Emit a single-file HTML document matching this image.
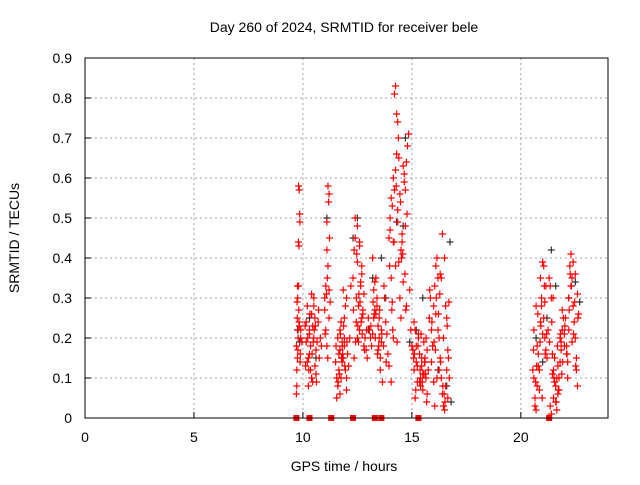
<!DOCTYPE html>
<html><head><meta charset="utf-8"><style>
body{margin:0;background:#fff}
svg text{font-family:"Liberation Sans",sans-serif;font-size:14px;fill:#000}
</style></head><body>
<svg id="chart" width="640" height="480" xmlns="http://www.w3.org/2000/svg">
<text x="344" y="32" text-anchor="middle">Day 260 of 2024, SRMTID for receiver bele</text>
<text x="344" y="471" text-anchor="middle">GPS time / hours</text>
<text transform="translate(19,238) rotate(-90)" text-anchor="middle">SRMTID / TECUs</text>
<g id="grid"></g><g id="ticks"></g><g id="black"></g><g id="red"></g>
<rect x="85" y="58" width="523" height="360" fill="none" stroke="#000" stroke-width="1"/>
</svg>
<script>
const xTicks=[0,5,10,15,20];
const yTicks=[0,0.1,0.2,0.3,0.4,0.5,0.6,0.7,0.8,0.9];
const yTickLabels=["0","0.1","0.2","0.3","0.4","0.5","0.6","0.7","0.8","0.9"];
const redHours=[9.7,9.72,9.75,9.78,9.8,9.82,9.85,9.7,9.74,9.76,9.8,9.83,9.86,9.9,9.72,9.78,9.81,9.84,9.88,9.75,9.79,9.9,9.95,
10.1,10.15,10.2,10.25,10.3,10.35,10.4,10.45,10.5,10.55,10.6,10.2,10.3,10.4,10.5,10.6,10.25,10.35,10.45,10.55,10.15,10.65,10.3,10.5,10.4,10.7,10.8,10.75,10.85,
11.0,11.05,11.1,11.15,11.2,11.25,11.1,11.15,11.2,11.05,11.1,11.18,11.22,11.0,11.12,11.2,
11.5,11.55,11.6,11.65,11.7,11.75,11.8,11.85,11.9,11.95,12.0,12.05,11.6,11.7,11.8,11.9,12.0,11.55,11.65,11.75,11.85,11.95,12.1,12.15,12.2,11.7,11.8,11.9,12.0,
12.3,12.35,12.4,12.45,12.5,12.55,12.6,12.65,12.7,12.75,12.8,12.4,12.5,12.6,12.7,12.8,12.35,12.45,12.55,12.65,12.75,12.85,12.9,12.95,13.0,13.05,12.5,12.6,12.7,
13.1,13.15,13.2,13.25,13.3,13.35,13.4,13.45,13.5,13.55,13.6,13.2,13.3,13.4,13.5,13.6,13.25,13.35,13.45,13.55,13.65,13.7,13.75,13.8,13.85,13.9,
13.95,14.0,14.05,14.1,14.15,14.2,14.25,14.3,14.35,14.4,14.0,14.05,14.1,14.15,14.2,14.25,14.3,14.35,14.4,14.45,14.5,14.55,14.6,14.65,14.7,14.75,14.8,14.85,14.5,14.6,14.7,13.95,14.05,14.15,14.25,14.35,14.45,14.55,14.65,14.75,14.9,14.95,15.0,
15.05,15.1,15.15,15.2,15.25,15.3,15.35,15.4,15.45,15.5,15.55,15.6,15.65,15.7,15.75,15.1,15.2,15.3,15.4,15.5,15.6,15.7,15.15,15.25,15.35,15.45,15.55,15.65,
15.8,15.85,15.9,15.95,16.0,16.05,16.1,16.15,16.2,16.25,16.3,16.35,16.4,16.45,16.5,16.55,16.6,16.65,16.7,15.9,16.0,16.1,16.2,16.3,16.4,16.5,16.6,16.05,16.25,16.45,16.65,16.15,16.35,16.55,
20.55,20.6,20.65,20.7,20.75,20.8,20.85,20.9,20.95,21.0,21.05,21.1,21.15,21.2,20.6,20.7,20.8,20.9,21.0,21.1,20.65,20.75,20.85,20.95,21.05,21.15,21.25,
21.3,21.35,21.4,21.45,21.5,21.55,21.6,21.65,21.7,21.75,21.8,21.85,21.9,21.95,22.0,21.4,21.5,21.6,21.7,21.8,21.9,21.35,21.45,21.55,21.65,21.75,21.85,
22.0,22.05,22.1,22.15,22.2,22.25,22.3,22.35,22.4,22.45,22.5,22.55,22.6,22.65,22.1,22.2,22.3,22.4,22.5,22.6,22.15,22.35,22.55,
9.73,9.77,9.82,9.87,10.12,10.22,10.32,10.42,10.52,10.62,10.72,10.27,10.47,10.57,11.02,11.08,11.14,11.52,11.62,11.72,11.82,11.92,12.02,11.67,11.77,11.87,
12.32,12.42,12.52,12.62,12.72,12.82,12.92,12.47,12.57,12.67,13.12,13.22,13.32,13.42,13.52,13.62,13.72,13.82,13.28,13.48,
13.98,14.08,14.18,14.28,14.38,14.48,14.58,14.68,14.78,14.12,14.32,14.52,14.72,15.08,15.18,15.28,15.38,15.48,15.58,15.68,15.12,15.42,15.62,
15.82,15.92,16.02,16.12,16.22,16.32,16.42,16.52,16.62,16.72,16.08,16.28,16.48,16.68,
20.58,20.68,20.78,20.88,20.98,21.08,21.18,20.72,20.92,21.12,21.32,21.42,21.52,21.62,21.72,21.82,21.92,21.48,21.68,21.88,22.02,22.12,22.22,22.32,22.42,22.52,22.62,22.27,22.47];
const redValues=[0.06,0.08,0.15,0.22,0.33,0.43,0.51,0.18,0.25,0.3,0.58,0.57,0.49,0.2,0.12,0.2,0.27,0.23,0.16,0.33,0.44,0.22,0.19,
0.23,0.19,0.28,0.15,0.22,0.12,0.1,0.09,0.2,0.25,0.17,0.14,0.21,0.26,0.3,0.11,0.08,0.18,0.23,0.13,0.24,0.19,0.16,0.28,0.31,0.24,0.2,0.15,0.18,
0.27,0.33,0.49,0.58,0.56,0.29,0.42,0.38,0.25,0.22,0.18,0.54,0.45,0.3,0.35,0.32,
0.14,0.05,0.08,0.12,0.17,0.1,0.19,0.15,0.18,0.12,0.07,0.16,0.2,0.22,0.18,0.25,0.3,0.1,0.16,0.24,0.32,0.28,0.13,0.2,0.33,0.06,0.14,0.2,0.1,
0.35,0.42,0.45,0.3,0.2,0.28,0.22,0.33,0.38,0.26,0.18,0.5,0.39,0.43,0.25,0.31,0.15,0.24,0.19,0.34,0.27,0.2,0.17,0.15,0.25,0.22,0.48,0.44,0.36,
0.2,0.18,0.21,0.25,0.27,0.35,0.3,0.17,0.2,0.15,0.19,0.4,0.34,0.28,0.25,0.22,0.32,0.26,0.23,0.12,0.09,0.18,0.3,0.24,0.21,0.16,
0.45,0.5,0.55,0.53,0.6,0.81,0.83,0.76,0.74,0.65,0.47,0.35,0.29,0.44,0.57,0.62,0.66,0.52,0.39,0.3,0.42,0.46,0.63,0.61,0.57,0.64,0.68,0.71,0.25,0.34,0.48,0.13,0.09,0.2,0.38,0.49,0.56,0.44,0.59,0.28,0.32,0.22,0.18,
0.17,0.12,0.05,0.14,0.09,0.2,0.16,0.08,0.13,0.11,0.19,0.15,0.1,0.06,0.12,0.24,0.18,0.21,0.1,0.07,0.14,0.17,0.22,0.13,0.09,0.15,0.11,0.2,
0.25,0.3,0.22,0.18,0.28,0.33,0.38,0.4,0.35,0.2,0.15,0.1,0.06,0.03,0.02,0.08,0.12,0.17,0.29,0.14,0.09,0.26,0.22,0.36,0.46,0.4,0.25,0.03,0.12,0.2,0.05,0.1,0.35,0.28,
0.12,0.22,0.05,0.28,0.18,0.13,0.07,0.35,0.3,0.39,0.25,0.2,0.33,0.15,0.1,0.02,0.16,0.24,0.21,0.29,0.03,0.08,0.12,0.28,0.38,0.17,0.22,
0.35,0.33,0.3,0.16,0.12,0.09,0.04,0.02,0.06,0.1,0.14,0.19,0.22,0.25,0.18,0.01,0.05,0.08,0.13,0.2,0.27,0.03,0.11,0.15,0.1,0.07,0.17,
0.21,0.25,0.18,0.14,0.3,0.38,0.41,0.35,0.28,0.24,0.2,0.12,0.08,0.26,0.16,0.22,0.33,0.39,0.36,0.31,0.1,0.19,0.15,
0.29,0.17,0.24,0.14,0.13,0.2,0.26,0.16,0.22,0.09,0.27,0.12,0.19,0.23,0.21,0.31,0.15,0.18,0.09,0.21,0.16,0.13,0.19,0.11,0.15,0.23,
0.27,0.19,0.23,0.29,0.21,0.17,0.22,0.41,0.31,0.24,0.23,0.29,0.2,0.16,0.27,0.21,0.33,0.14,0.26,0.18,
0.38,0.27,0.44,0.58,0.7,0.54,0.41,0.36,0.51,0.22,0.19,0.4,0.27,0.15,0.07,0.18,0.12,0.09,0.14,0.04,0.16,0.21,0.11,
0.32,0.24,0.19,0.3,0.26,0.14,0.08,0.04,0.23,0.1,0.17,0.31,0.06,0.15,
0.17,0.09,0.26,0.19,0.05,0.33,0.21,0.13,0.23,0.16,0.19,0.24,0.1,0.04,0.07,0.21,0.14,0.3,0.18,0.11,0.23,0.16,0.27,0.33,0.21,0.13,0.25,0.36,0.29];
const blackHours=[9.75,9.85,10.3,10.6,11.1,12.3,12.5,13.2,13.6,13.8,14.3,14.7,14.6,15.2,15.5,16.2,16.6,16.8,16.75,20.7,21.2,21.4,21.6,22.2,22.5,22.7,21.0,14.9,13.0,11.8];
const blackValues=[0.22,0.19,0.25,0.15,0.5,0.45,0.5,0.35,0.4,0.3,0.49,0.7,0.48,0.22,0.3,0.12,0.08,0.04,0.44,0.2,0.25,0.42,0.33,0.3,0.34,0.29,0.14,0.19,0.22,0.15];
const zeroHours=[9.7,10.3,11.3,12.3,13.3,13.6,15.3,21.3];
const X=h=>85+h*(523/24), Y=v=>418-v*400;
const ns="http://www.w3.org/2000/svg";
function mk(t,a,p){const e=document.createElementNS(ns,t);for(const k in a)e.setAttribute(k,a[k]);p.appendChild(e);return e;}
const grid=document.getElementById('grid'),tk=document.getElementById('ticks');
xTicks.forEach(t=>{const x=X(t);
 if(t>0){const g=mk('line',{x1:x,x2:x,y1:58,y2:418,stroke:'#a0a0a0','stroke-dasharray':'2,3'},grid);
 
 }
 const l=mk('text',{x:x,y:442,'text-anchor':'middle'},tk);l.textContent=t;
 
 
 mk('line',{x1:x,x2:x,y1:418,y2:412,stroke:'#000'},tk);});
yTicks.forEach((t,i)=>{const y=Y(t);
 if(t>0&&t<0.9){const g=mk('line',{x1:85,x2:608,y1:y,y2:y,stroke:'#a0a0a0','stroke-dasharray':'2,3'},grid);
 
 }
 const l=mk('text',{x:72,y:y+5,'text-anchor':'end'},tk);l.textContent=yTickLabels[i];
 
 
 mk('line',{x1:85,x2:91,y1:y,y2:y,stroke:'#000'},tk);});
function plus(g,h,v,c){const x=X(h),y=Y(v);
 const p=mk('path',{d:`M${x-3.5},${y}h7M${x},${y-3.5}v7`,stroke:c,'stroke-width':1.2},g);return p;}
const bg=document.getElementById('black'),rg=document.getElementById('red');
blackHours.forEach((h,i)=>{const p=plus(bg,h,blackValues[i],'#303030');
 
 });
redHours.forEach((h,i)=>{const p=plus(rg,h,redValues[i],'#ff0000');
 
 });
zeroHours.forEach(h=>{const r=mk('rect',{x:X(h)-3,y:415,width:6,height:6,fill:'#ff0000'},rg);
 
 });
</script>
</body></html>
